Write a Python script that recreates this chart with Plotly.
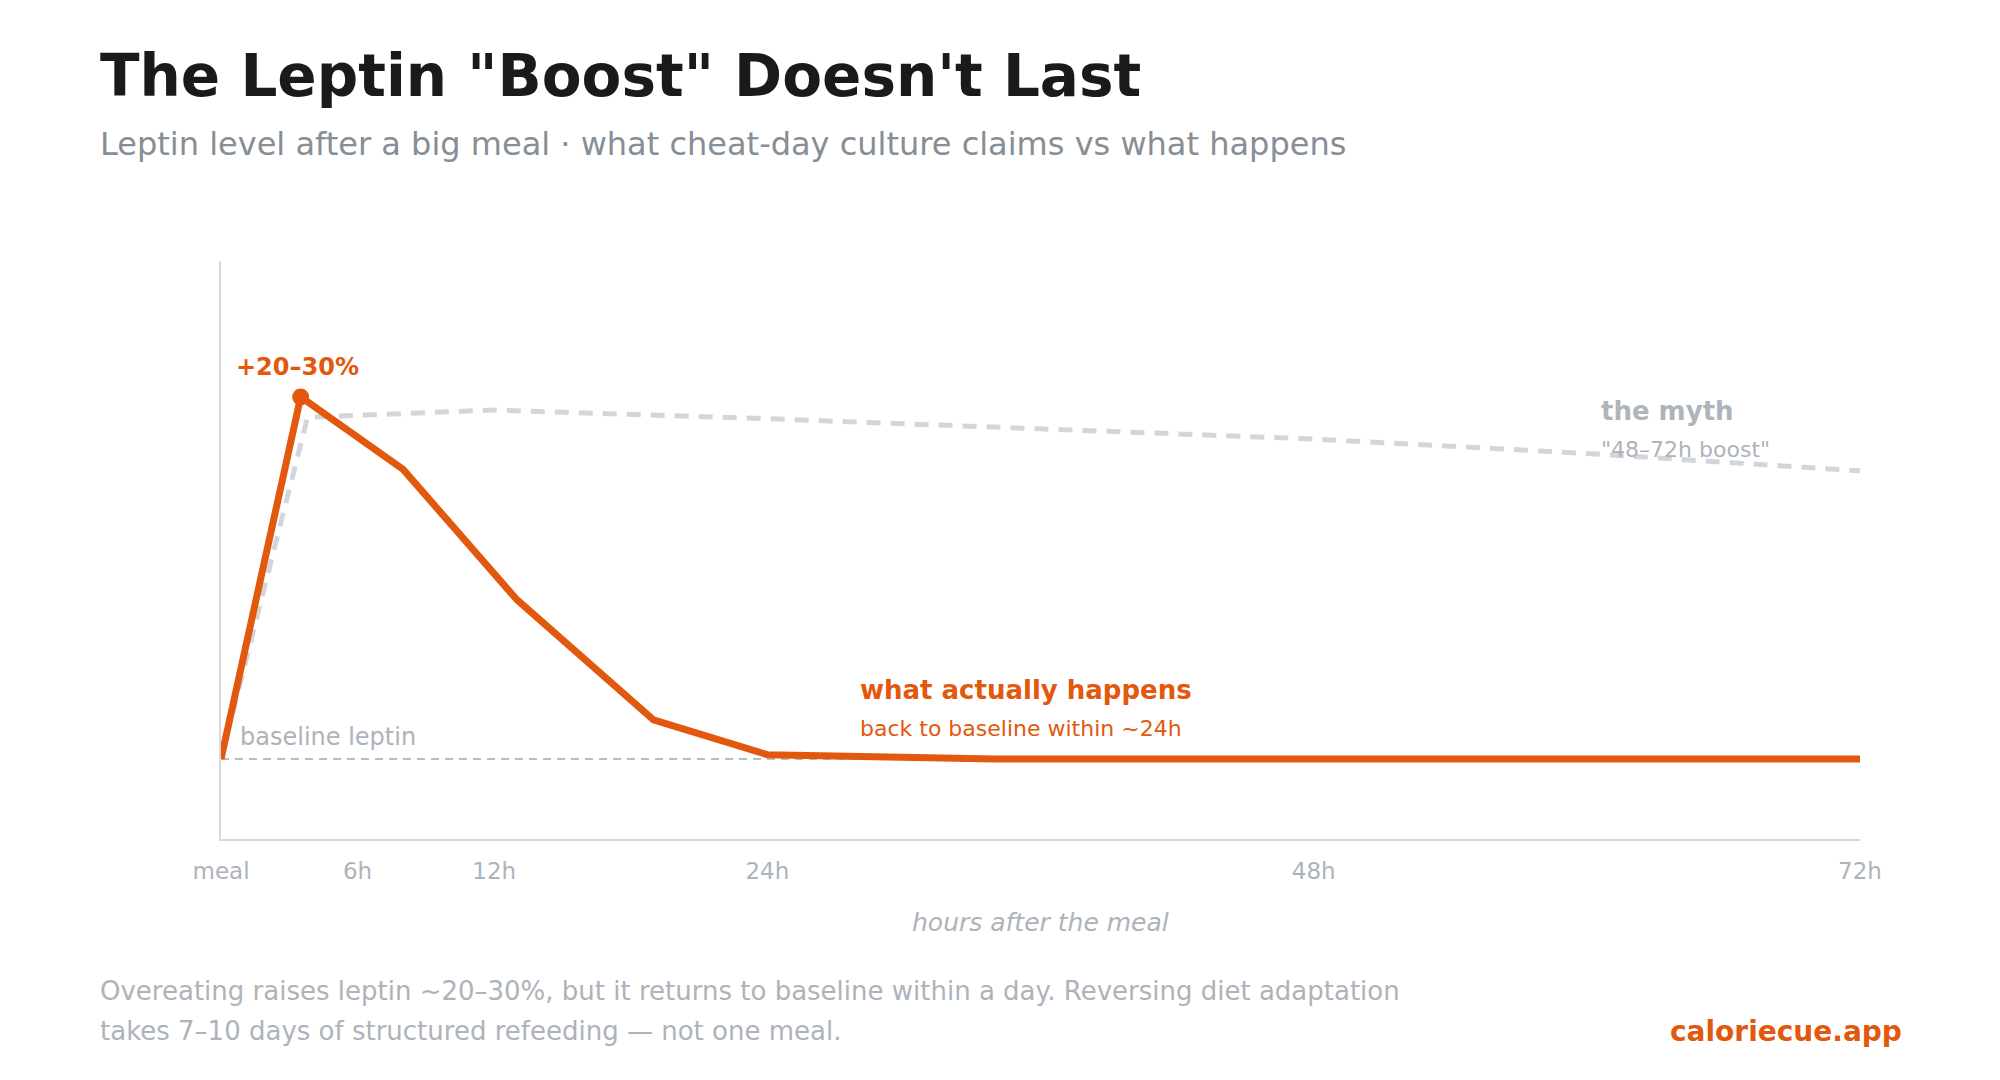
import plotly.graph_objects as go

# ---- data ----
hours_actual = [0, 3.5, 8, 13, 19, 24, 34, 72]
leptin_actual = [100, 125, 120, 111, 102.7, 100.3, 100, 100]
hours_myth = [0, 3.8, 12, 24, 36, 48, 60, 72]
leptin_myth = [100, 123.6, 124.1, 123.5, 122.8, 122.1, 121.1, 119.9]
baseline_hours = [0, 72]
baseline_level = [100, 100]
tick_vals = [0, 6, 12, 24, 48, 72]
tick_text = ["meal", "6h", "12h", "24h", "48h", "72h"]

ORANGE = "#E2580D"
MYTH = "#D2D6DB"
GREY_TXT = "#ADB3BA"
FONT = "DejaVu Sans"

W, H = 2000, 1080
L, R, T, B = 221, 140, 261, 241
PW, PH = W - L - R, H - T - B


def px(x):
    return (x - L) / PW


def py(y):
    return (H - B - y) / PH


fig = go.Figure()
fig.add_trace(go.Scatter(x=baseline_hours, y=baseline_level, mode="lines",
                         line=dict(color="#B9BEC4", width=2, dash="8px,6px"),
                         hoverinfo="skip"))
fig.add_trace(go.Scatter(x=hours_myth, y=leptin_myth, mode="lines",
                         line=dict(color=MYTH, width=5, dash="14px,10px"),
                         hoverinfo="skip"))
fig.add_trace(go.Scatter(x=hours_actual, y=leptin_actual, mode="lines",
                         line=dict(color=ORANGE, width=7),
                         hoverinfo="skip"))
fig.add_trace(go.Scatter(x=[hours_actual[1]], y=[leptin_actual[1]], mode="markers",
                         marker=dict(color=ORANGE, size=17),
                         hoverinfo="skip"))


def txt(x, y, s, size, color, bold=False, italic=False, anchor="left"):
    fig.add_annotation(xref="paper", yref="paper", x=px(x), y=py(y), text=s,
                       showarrow=False, xanchor=anchor, yanchor="middle",
                       font=dict(family=FONT, size=size, color=color,
                                 weight="bold" if bold else "normal",
                                 style="italic" if italic else "normal"))


txt(98, 76, "The Leptin \"Boost\" Doesn't Last", 58, "#1A1A1A", bold=True)
txt(98, 144, "Leptin level after a big meal · what cheat-day culture claims vs what happens", 32, "#868E96")
txt(234, 367, "+20–30%", 24, ORANGE, bold=True)
txt(238, 737, "baseline leptin", 24, GREY_TXT)
txt(858, 690, "what actually happens", 26, ORANGE, bold=True)
txt(858, 728, "back to baseline within ~24h", 22, ORANGE)
txt(1599, 411, "the myth", 26, "#AEB4BB", bold=True)
txt(1599, 449, "\"48–72h boost\"", 22, GREY_TXT)
txt(1040, 922, "hours after the meal", 25, GREY_TXT, italic=True, anchor="center")
txt(98, 991, "Overeating raises leptin ~20–30%, but it returns to baseline within a day. Reversing diet adaptation", 26, GREY_TXT)
txt(98, 1031, "takes 7–10 days of structured refeeding — not one meal.", 26, GREY_TXT)
txt(1904, 1031, "caloriecue.app", 28, ORANGE, bold=True, anchor="right")

fig.update_layout(
    width=W, height=H,
    margin=dict(l=L, r=R, t=T, b=B),
    paper_bgcolor="white", plot_bgcolor="white",
    showlegend=False,
    font=dict(family=FONT, color=GREY_TXT),
    xaxis=dict(range=[0, 72], tickvals=tick_vals, ticktext=tick_text,
               showgrid=False, zeroline=False, showline=True, linecolor="#D6DADE",
               linewidth=2, ticks="", ticklabelstandoff=10,
               tickfont=dict(family=FONT, size=23, color=GREY_TXT)),
    yaxis=dict(range=[94.48, 134.39], showgrid=False, zeroline=False,
               showline=True, linecolor="#D6DADE", linewidth=2,
               showticklabels=False, ticks=""),
)

fig.write_html("out.html")
